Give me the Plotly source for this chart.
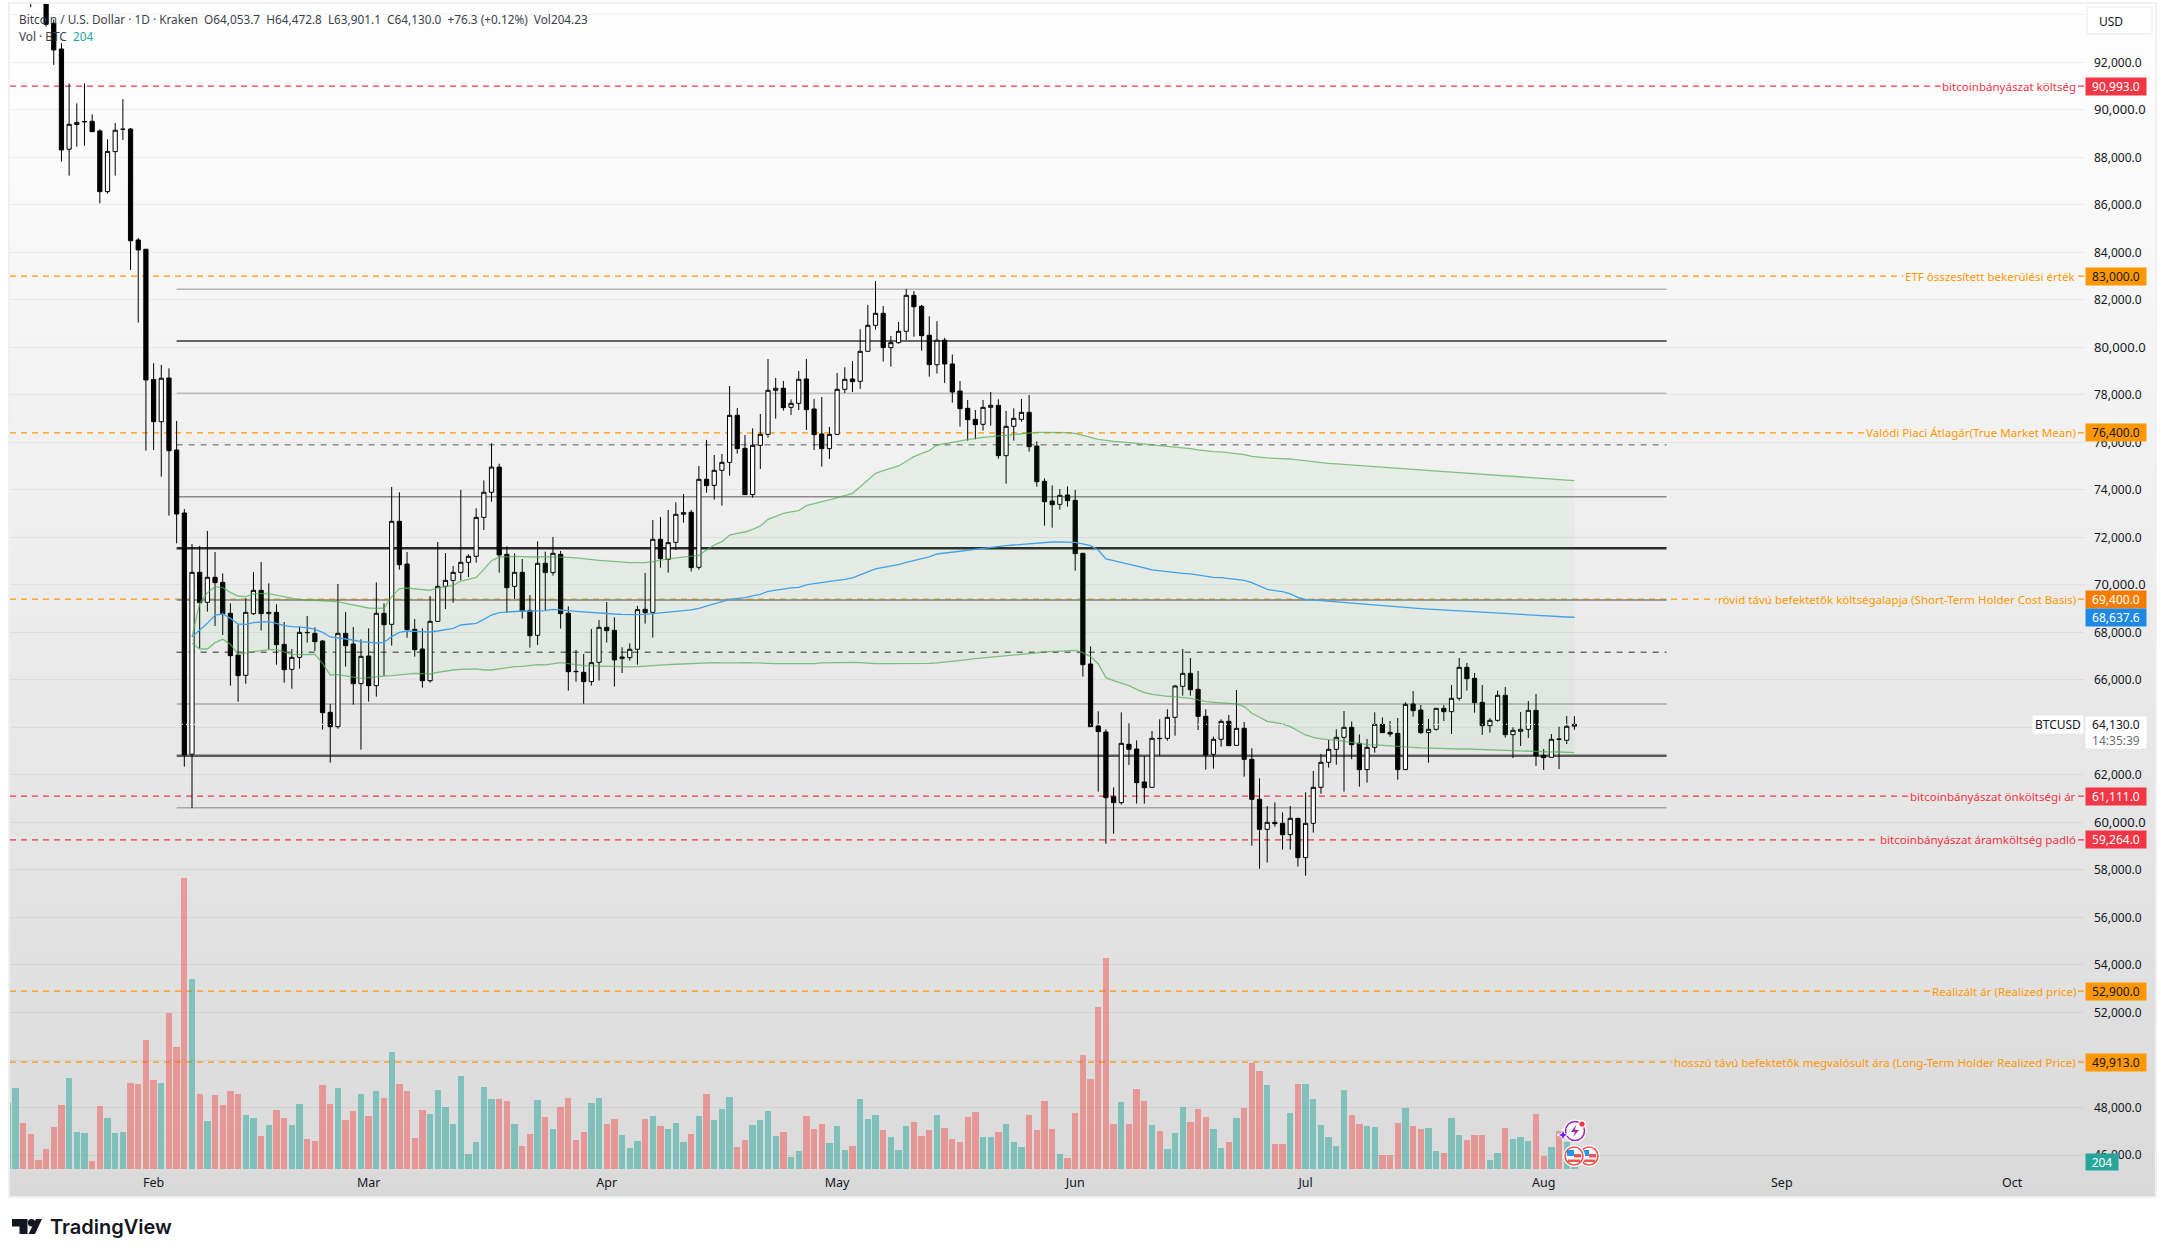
import pandas as pd
import plotly.graph_objects as go

# ---------- data (Jan 13 - Aug 5 2026, daily) ----------
first_day = "2026-01-13"
open_ = [96000,97000,97500,96200,95200,95000,93640,92560,88340,89380,
 89500,89515,89110,86555,88240,89180,89190,84520,84130,
 78650,76870,78710,75680,73027,62870,70530,69266,70320,70108,
 68803,67049,66193,68790,69771,68790,68845,67498,66446,66951,
 68003,67961,67638,64636,64032,67961,67512,65842,67007,65758,
 68803,68340,72676,70880,68130,67302,65968,68466,69940,70192,
 70529,70950,71203,72844,73900,74960,71287,69940,70529,68929,
 67877,70910,70516,71288,68804,66362,66320,65928,66741,68215,
 68089,66896,66938,67289,68972,68846,71919,71077,71793,72972,
 73056,70741,74445,74192,74824,75160,77139,75750,73800,75876,
 76339,78192,78276,77476,77644,78669,77406,76353,75736,76339,
 78234,78669,78570,79833,80928,81433,79988,80198,80675,82191,
 81727,80507,79270,80300,79300,78163,77433,76970,76760,77475,
 77560,75441,76676,76970,77265,75848,74360,73532,73392,73785,
 73560,71329,66671,64060,63808,61086,60834,63289,63093,61704,
 61479,63542,63542,64425,65731,66278,65604,64468,62868,63500,
 64257,63247,63963,62658,60974,59711,60006,59964,59487,60174,
 58518,59964,61479,62532,63079,63584,64005,63331,62223,63163,
 64131,63794,63752,62223,64987,64734,63780,63921,64804,64664,
 65226,66530,66067,65057,64075,64299,65352,63696,63836,63921,
 64720,62826,62742,63514,63458,64053.7]
close = [97000,97500,96200,95200,95000,93600,92520,88310,89390,89470,
 89500,89080,86555,88250,89140,89180,84490,84100,78627,
 76870,78700,75650,72985,62840,70530,69250,70320,70094,68790,
 67021,66179,68845,69771,68790,68845,67484,66432,66951,68003,
 67990,67610,64622,64032,67961,67442,65842,66993,65758,68803,
 68326,72676,70852,68116,67274,65968,68466,69940,70192,70529,
 70950,71203,72844,73900,74960,71259,69884,70529,68901,67863,
 70908,70516,71330,68790,66348,66350,65928,66727,68215,68075,
 66840,66966,67289,68958,68832,71919,71105,71779,72972,73042,
 70727,74445,74178,74824,75160,77139,75736,73800,75876,76339,
 78192,78276,77462,77644,78655,77378,76325,75736,76339,78234,
 78655,78556,79833,80928,81433,79988,80198,80675,82191,81713,
 80493,79272,80300,79300,78121,77419,76956,76746,77475,77560,
 75441,76676,77012,77265,75820,74346,73504,73378,73771,73546,
 71315,66643,64033,63823,61044,60834,63331,63079,61676,61465,
 63542,63530,64425,65745,66278,65590,64468,62840,63500,64257,
 63233,63963,62658,60974,59711,60006,59950,59487,60174,58518,
 59964,61479,62532,63079,63584,64005,63275,62223,63163,64131,
 63780,63724,62223,64973,64706,63780,63921,64804,64664,65226,
 66530,66053,65043,64075,64299,65352,63696,63878,63921,64720,
 62812,62728,63500,63500,64047,64130.0]
high = [97500,97900,97800,96600,95900,95400,93800,92800,91110,90270,
 91110,89810,89180,88760,89445,90450,89235,84600,84130,
 79330,79260,79117,76900,73196,71720,71640,72270,71385,70487,
 69224,68340,69435,70543,70964,70066,69182,68438,67302,68256,
 68691,68214,67680,64986,70038,68859,68228,67709,68172,70108,
 69224,74120,73900,71385,68565,68172,69533,71806,71343,70796,
 74000,71287,73223,74400,75960,75100,71624,71329,71090,69575,
 71835,71400,72017,71428,69099,67261,67092,68145,68523,69281,
 68636,67373,67541,69113,70502,72733,72859,73154,73477,73827,
 73154,75006,76101,75469,75511,78374,77448,76311,76592,77195,
 79510,78711,78584,77812,79005,79510,77827,77911,76648,78921,
 79160,79426,80759,81784,82794,81741,80479,81068,82457,82373,
 81784,81307,81100,80400,79700,78584,77784,77363,77784,78121,
 77812,77321,77433,77826,77995,76044,74487,74192,74037,74150,
 73996,71350,67415,64678,63921,61479,64636,64173,63457,62798,
 63850,64341,64762,65787,67302,66923,66376,64762,63612,64341,
 64524,65576,64229,63121,61858,60694,60848,60427,60694,60174,
 61269,62167,62882,63471,63921,64692,64257,63710,63514,64636,
 64426,64271,64398,65057,65534,64945,64355,64804,64945,65787,
 66923,66713,66292,65787,64398,65548,65703,64005,64650,65113,
 65408,63093,63724,64033,64482,64472.8]
low = [95600,96600,95800,94315,94800,93500,91890,87820,87230,88450,
 88490,89080,86060,86470,87230,88730,83260,81040,75650,
 75680,74557,72915,71750,62350,60600,67330,68873,68270,67890,
 65758,65085,65842,68733,68073,67302,66642,65884,65632,66474,
 67568,67218,63906,62517,63948,66558,64958,63064,65085,65295,
 66179,67442,70641,67779,66979,65674,65884,68466,68985,69252,
 70192,70333,70936,72311,73500,70515,68831,69406,68579,67358,
 67470,68916,70390,68159,65549,65928,65000,65760,65970,67570,
 65717,66293,66812,66643,68369,67780,70727,70516,71470,72621,
 70558,70642,73884,73589,73336,74599,75525,73800,73673,74880,
 76199,76999,77336,77153,77363,76522,75680,74978,75301,76339,
 78079,78121,78248,79833,80745,79398,79188,80156,80310,80450,
 79861,78767,78900,78500,77672,76662,76072,76128,76493,76704,
 75315,74262,76072,76872,75609,74136,72494,72410,73168,73294,
 70600,66138,64033,61297,59108,59529,60750,62419,60792,60792,
 61479,62812,63443,63654,65338,65338,63892,62223,62265,63191,
 63233,63247,61928,59023,58055,58308,59823,58855,58855,58140,
 57761,59571,61212,62307,62433,61297,62658,61507,61676,62938,
 63780,63612,61802,62223,64454,63724,62517,63865,64271,63724,
 65127,65548,64622,63682,63780,64243,63570,62714,63219,63556,
 62377,62209,62742,62251,63303,63901.1]
volume = [1675,2066,1173,893,230,510,1071,1632,2321,944,
 918,204,1607,1301,918,944,2193,2168,3290,
 2270,2193,3978,3111,7421,4845,1913,1224,1887,1632,
 1989,1913,1377,1301,842,1122,1505,1301,1122,1658,
 765,714,2142,1658,2066,1250,1479,1913,1352,1989,
 1811,2984,2168,1989,791,1505,1403,2015,1581,1148,
 2372,383,689,2091,1785,1785,1734,1148,587,893,
 1760,1326,1020,1581,1811,740,944,1683,1811,1148,
 1275,867,536,714,1275,1352,1097,1020,1173,689,
 893,1352,1913,1250,1530,1836,561,740,1122,1250,
 1479,842,944,306,459,1352,1020,1148,663,1097,
 485,587,1785,1275,1377,995,816,485,1097,1199,
 842,995,1377,1046,765,689,1326,1454,816,816,
 944,1148,689,561,1377,995,1734,1020,383,281,
 1428,2907,2295,4131,5381,1148,1709,1148,2040,1734,
 1122,969,510,918,1581,1199,1530,1326,1020,536,
 689,1301,1556,2703,2499,2142,638,638,1428,2168,
 2168,1785,1122,816,587,2015,1377,1148,1097,1071,
 357,357,1173,1556,1097,1020,1046,459,408,1301,
 867,740,867,867,230,408,1046,765,816,714,
 1403,332,561,969,697,204]

# moving band, from Feb 6 onwards
band_upper = [67821,69224,69673,69926,69884,69687,69533,69505,69617,69645,69631,69575,69519,69449,69378,69364,69350,69336,69322,69294,
 69224,69154,69070,69028,69014,69028,69505,69842,69870,69842,69799,69771,69870,69926,69982,70164,70234,70318,70655,71020,
 71175,71203,71203,71189,71175,71175,
 71190,71190,71190,71162,71134,71092,71064,71036,71008,70980,70952,70938,70938,70938,70980,71050,71092,71134,71176,71218,
 71246,71470,71680,71820,72100,72171,72227,72340,72480,72760,72900,73012,73070,73126,73337,73435,73505,73575,73673,73757,
 73855,74135,74416,74697,74810,74922,75006,75203,75400,75540,75652,
 75890,75960,76002,76059,76129,76171,76213,76241,76283,76311,76339,76381,76409,76423,76423,76423,76409,76409,76381,76283,
 76213,76129,76073,76045,76017,75989,75947,75919,75890,75862,75848,75806,75764,75736,75680,75638,75610,75596,75568,75540,
 75484,75414,75372,75344,75330,75330,75301,75259,75217,75175,75147,75119,
 75095,75070,75048,75020,74995,74975,74950,74925,74905,74885,74860,74835,74815,74795,74775,74750,74730,74705,74680,74660,
 74635,74610,74585,74560,74535,74510,74490,74470,74450,74430,74410,74390]
band_mid = [67821,68102,68383,68733,68775,68593,68355,68341,68411,68439,68453,68383,68285,68243,68214,68200,68130,68004,67808,67765,
 67737,67681,67611,67569,67555,67583,67821,68004,68060,68046,68018,68018,68060,68116,68172,68312,68341,68383,68551,68733,
 68832,68860,68874,68902,68902,68902,
 68916,68972,68958,68916,68888,68860,68832,68804,68790,68776,68762,68748,68748,68762,68790,68832,68860,68888,68916,68945,
 69015,69113,69197,69281,69395,69437,69465,69535,69606,69731,69787,69844,69872,69900,69998,70054,70110,70153,70195,70237,
 70293,70419,70546,70672,70742,70798,70854,70953,71037,71107,71177,
 71302,71344,71372,71400,71471,71513,71541,71583,71625,71653,71681,71709,71751,71779,71793,71807,71807,71807,71793,71723,
 71653,71471,71092,71022,70952,70868,70798,70713,70629,70587,70559,70517,70489,70461,70405,70348,70320,70306,70278,70250,
 70194,70096,69955,69815,69759,69717,69619,69478,69394,69366,69338,69310,
 69290,69265,69240,69215,69190,69160,69130,69100,69075,69050,69025,69000,68980,68960,68940,68920,68900,68880,68860,68840,
 68820,68800,68785,68770,68750,68730,68710,68690,68675,68660,68650,68637.6]
band_lower = [67541,67303,67303,67569,67709,67498,67077,67148,67190,67232,67274,67274,67190,67077,67063,67063,67077,66699,66208,66222,
 66180,66110,66068,66096,66138,66166,66180,66222,66264,66278,66264,66250,66320,66376,66418,66447,66461,66461,66418,66418,
 66461,66517,66559,66573,66601,66643,
 66631,66687,66730,66687,66631,66603,66589,66575,66561,66561,66547,66547,66561,66589,66603,66617,66645,66659,66673,66701,
 66715,66729,66729,66715,66701,66715,66729,66729,66715,66701,66687,66687,66687,66673,66673,66687,66715,66729,66743,66743,
 66743,66729,66701,66687,66687,66687,66673,66673,66673,66687,66701,
 66714,66743,66771,66799,66855,66897,66925,66953,66981,67009,67023,67051,67093,67135,67177,67191,67205,67233,67247,67149,
 66981,66672,66097,65971,65873,65761,65606,65466,65396,65340,65312,65284,65256,65228,65158,65087,65059,65031,65017,64989,
 64877,64597,64428,64259,64203,64147,64035,63866,63684,63585,63515,63487,
 63472,63416,63360,63318,63276,63262,63248,63220,63206,63192,63164,63136,63122,63122,63108,63108,63093,63093,63079,63079,
 63065,63065,63051,63037,63023,63009,62995,62981,62967,62967,62953,62939]

# horizontal reference levels
level_values = [90993.0, 83000.0, 76400.0, 69400.0, 61111.0, 59264.0, 52900.0, 49913.0]
level_names = ["bitcoinbányászat költség", "ETF összesített bekerülési érték",
               "Valódi Piaci Átlagár(True Market Mean)",
               "rövid távú befektetők költségalapja (Short-Term Holder Cost Basis)",
               "bitcoinbányászat önköltségi ár", "bitcoinbányászat áramköltség padló",
               "Realizált ár (Realized price)",
               "hosszú távú befektetők megvalósult ára (Long-Term Holder Realized Price)"]
level_line = ["#f23645", "#ff9800", "#ff9800", "#ff9800", "#f23645", "#f23645", "#ff9800", "#ff9800"]
level_badge = ["#f23645", "#ff9800", "#ff9800", "#f57c00", "#f23645", "#f23645", "#ff9800", "#ff9800"]
level_ink = ["#ffffff", "#131722", "#131722", "#ffffff", "#ffffff", "#ffffff", "#131722", "#131722"]

fib_values = [82443, 80268, 78065, 75904, 73715, 71540, 69365, 67163, 64987, 62805, 60623]
fib_colors = ["#b4b4b4", "#666666", "#bdbdbd", "#8c8c8c", "#8a8a8a", "#2b2b2b", "#808080", "#6a6a6a", "#aaaaaa", "#5a5a5a", "#a5a5a5"]
fib_widths = [1.5, 2, 1.5, 1.5, 1.5, 2.5, 1.5, 1.5, 1.5, 2.5, 1.5]
fib_dashes = ["solid", "solid", "solid", "6px,6px", "solid", "solid", "solid", "6px,6px", "solid", "solid", "solid"]
fib_start, fib_end = "2026-02-04", "2026-08-17"

last_price = 64130.0
price_ticks = list(range(46000, 96000, 2000))
month_ticks = ["2026-02-01", "2026-03-01", "2026-04-01", "2026-05-01", "2026-06-01", "2026-07-01", "2026-08-01", "2026-09-01", "2026-10-01"]
month_names = ["Feb", "Mar", "Apr", "May", "Jun", "Jul", "Aug", "Sep", "Oct"]

assert all(len(s) == 205 for s in (open_, high, low, close, volume)), [len(s) for s in (open_, high, low, close, volume)]
assert all(len(s) == 181 for s in (band_upper, band_mid, band_lower)), [len(s) for s in (band_upper, band_mid, band_lower)]

# ---------- layout geometry ----------
W, H = 2166, 1257
L, R, T, B = 10, 2084, 4, 1169
PANE_R, PANE_B = 2156, 1197
FONT = "Noto Sans"
INK = "#131722"


def xp(px):
    return (px - L) / (R - L)


def yp(py):
    return (B - py) / (B - T)


def pane_grey(py):
    g = int(round(255 - 38 * (py - T) / (PANE_B - T)))
    return f"rgb({g},{g},{g})"


PRICE_TOP, PRICE_BOTTOM = 94454, 45412


def price_py(p):
    return T + (PRICE_TOP - p) / (PRICE_TOP - PRICE_BOTTOM) * (B - T)


dates = pd.date_range(first_day, periods=len(close))
band_dates = dates[24:]
feb1 = pd.Timestamp("2026-02-01")
DAY_PX, FEB1_PX = 7.68, 153.6
x_range = [str(feb1 + pd.Timedelta(days=(L - FEB1_PX) / DAY_PX)), str(feb1 + pd.Timedelta(days=(R - FEB1_PX) / DAY_PX))]

UP_VOL, DOWN_VOL = "rgba(38,166,154,0.5)", "rgba(239,83,80,0.5)"
vol_colors = [UP_VOL if c >= o else DOWN_VOL for o, c in zip(open_, close)]

fig = go.Figure()
fig.add_trace(go.Bar(x=dates, y=volume, width=0.82 * 86400000, marker=dict(color=vol_colors, line=dict(width=0)),
                     yaxis="y", hoverinfo="skip", showlegend=False))
fig.add_trace(go.Scatter(x=band_dates, y=band_upper, yaxis="y2", mode="lines", line=dict(color="rgba(76,175,80,0.7)", width=1.3),
                         hoverinfo="skip", showlegend=False))
fig.add_trace(go.Scatter(x=band_dates, y=band_lower, yaxis="y2", mode="lines", line=dict(color="rgba(76,175,80,0.7)", width=1.3),
                         fill="tonexty", fillcolor="rgba(76,175,80,0.055)", hoverinfo="skip", showlegend=False))
fig.add_trace(go.Scatter(x=band_dates, y=band_mid, yaxis="y2", mode="lines", line=dict(color="#42a0e8", width=1.3),
                         hoverinfo="skip", showlegend=False))
fig.add_trace(go.Candlestick(x=dates, open=open_, high=high, low=low, close=close, yaxis="y2", whiskerwidth=0,
                             increasing=dict(line=dict(color="#000000", width=1), fillcolor="#ffffff"),
                             decreasing=dict(line=dict(color="#000000", width=1), fillcolor="#000000"),
                             showlegend=False, hoverinfo="skip"))

shapes = []
# pane gradient
STRIPS = 80
for i in range(STRIPS):
    y0 = T + (PANE_B - T) * i / STRIPS
    y1 = T + (PANE_B - T) * (i + 1) / STRIPS
    shapes.append(dict(type="rect", xref="paper", yref="paper", x0=xp(L), x1=xp(PANE_R), y0=yp(y0), y1=yp(y1 + 0.5),
                       fillcolor=pane_grey((y0 + y1) / 2), line=dict(width=0), layer="below"))
shapes.append(dict(type="rect", xref="paper", yref="paper", x0=xp(L - 1), x1=xp(PANE_R), y0=yp(T - 1), y1=yp(PANE_B),
                   line=dict(color="#eef0f4", width=2), layer="below"))

for v, c, w, d in zip(fib_values, fib_colors, fib_widths, fib_dashes):
    shapes.append(dict(type="line", xref="x", yref="y2", x0=fib_start, x1=fib_end, y0=v, y1=v,
                       line=dict(color=c, width=w, dash=d), layer="below"))
for v, c in zip(level_values, level_line):
    shapes.append(dict(type="line", xref="paper", yref="y2", x0=0, x1=1, y0=v, y1=v,
                       line=dict(color=c, width=1.2, dash="6px,5px"), layer="below"))
shapes.append(dict(type="line", xref="paper", yref="y2", x0=0, x1=1, y0=last_price, y1=last_price,
                   line=dict(color="#ffffff", width=1, dash="1px,3px"), layer="above"))
# currency box
shapes.append(dict(type="rect", xref="paper", yref="paper", x0=xp(2087), x1=xp(2152), y0=yp(34), y1=yp(7),
                   fillcolor="#ffffff", line=dict(color="#f0f1f4", width=1.5), layer="above"))


def circle(cx, cy, r, fill, line=None, w=0):
    shapes.append(dict(type="circle", xref="paper", yref="paper", x0=xp(cx - r), x1=xp(cx + r), y0=yp(cy + r), y1=yp(cy - r),
                       fillcolor=fill, line=dict(color=line or fill, width=w), layer="above"))


def box(x0, y0, x1, y1, fill):
    shapes.append(dict(type="rect", xref="paper", yref="paper", x0=xp(x0), x1=xp(x1), y0=yp(y1), y1=yp(y0),
                       fillcolor=fill, line=dict(width=0), layer="above"))


def poly(points, fill, line=None, w=0):
    path = "M " + " L ".join(f"{xp(a):.6f} {yp(b):.6f}" for a, b in points) + " Z"
    shapes.append(dict(type="path", xref="paper", yref="paper", path=path, fillcolor=fill,
                       line=dict(color=line or fill, width=w), layer="above"))


# event icons
for cx in (1589, 1574):
    circle(cx, 1156, 11, "#ffffff")
    circle(cx, 1156, 9, "#ffffff", "#ef5350", 1.6)
    box(cx - 7, 1150, cx, 1156, "#2196f3")
    box(cx, 1154, cx + 7, 1157.5, "#ef5350")
    box(cx - 6, 1159.5, cx + 6, 1162, "#ef5350")
circle(1575, 1131, 11.5, "#ffffff")
circle(1575, 1131, 9.5, "#ffffff", "#9c27b0", 1.6)
poly([(1576, 1125), (1571, 1132), (1575, 1132), (1573, 1137), (1579, 1130), (1575, 1130)], "#9c27b0")
circle(1582, 1124, 3.8, "#ffffff")
circle(1582, 1124, 2.6, "#f23645")
poly([(1563, 1129), (1564.5, 1133.5), (1569, 1135), (1564.5, 1136.5), (1563, 1141), (1561.5, 1136.5), (1557, 1135), (1561.5, 1133.5)],
     "#651fff", "#ffffff", 1)

# logo mark
poly([(12, 1219), (27.5, 1219), (27.5, 1234), (19.5, 1234), (19.5, 1226.5), (12, 1226.5)], INK)
circle(31.5, 1222.8, 3.7, INK)
poly([(36, 1219), (42, 1219), (35, 1234), (28.5, 1234)], INK)

ann = []


def note(text, x, y, yref="y2", xanchor="left", yanchor="middle", color=INK, size=12, **kw):
    ann.append(dict(text=text, x=x, y=y, xref="paper", yref=yref, xanchor=xanchor, yanchor=yanchor, showarrow=False,
                    font=dict(family=FONT, size=size, color=color), **kw))


# level labels and price badges
for v, n, c, b, ink in zip(level_values, level_names, level_line, level_badge, level_ink):
    note(n, xp(2078), v, xanchor="right", color=c, size=11.55, bgcolor=pane_grey(price_py(v)), borderpad=1)
    note(f"{v:,.1f}", xp(2085), v, color=ink, bgcolor=b, width=60, height=17, align="center", borderpad=0)
note("68,637.6", xp(2085), band_mid[-1], color="#ffffff", bgcolor="#1e88e5", width=60, height=17, align="center", borderpad=0)
note("BTCUSD", xp(2084), last_price, xanchor="right", bgcolor="#ffffff", width=50, height=17, align="center", borderpad=0)
note("64,130.0<br><span style='color:#6a6d78'>14:35:39</span>", xp(2085), yp(716), yref="paper", yanchor="top", bgcolor="#ffffff",
     width=60, height=31, align="center", borderpad=0)
note("204", xp(2085), yp(1153), yref="paper", yanchor="top", color="#ffffff", bgcolor="#26a69a", width=32, height=16, align="center", borderpad=0)
note("USD", xp(2097), yp(21), yref="paper")
note("Bitcoin / U.S. Dollar · 1D · Kraken&nbsp;&nbsp;O64,053.7&nbsp;&nbsp;H64,472.8&nbsp;&nbsp;L63,901.1&nbsp;&nbsp;C64,130.0&nbsp;&nbsp;+76.3 (+0.12%)&nbsp;&nbsp;Vol204.23",
     xp(17), yp(19), yref="paper", color="#3b3f4a", size=11.8)
note("Vol · BTC&nbsp;&nbsp;<span style='color:#26a69a'>204</span>", xp(17), yp(36), yref="paper", color="#3b3f4a", size=11.8)
ann.append(dict(text="TradingView", x=xp(48), y=yp(1227), xref="paper", yref="paper", xanchor="left", yanchor="middle", showarrow=False,
                font=dict(family="Inter", size=20, color=INK, weight=600)))

tick_text = []
for p in price_ticks:
    if p == 94000:
        tick_text.append("")
    elif p % 10000 == 0:
        tick_text.append(f"<span style='font-size:13px'>{p:,.1f}</span>")
    else:
        tick_text.append(f"{p:,.1f}")

fig.update_layout(
    width=W, height=H, autosize=False,
    margin=dict(l=L, r=W - R, t=T, b=H - B, pad=0),
    paper_bgcolor="#ffffff", plot_bgcolor="rgba(0,0,0,0)",
    showlegend=False, bargap=0, boxgap=0.45, boxgroupgap=0, hovermode=False,
    shapes=shapes, annotations=ann,
    font=dict(family=FONT, size=12, color=INK),
    xaxis=dict(type="date", range=x_range, tickmode="array", tickvals=month_ticks, ticktext=month_names,
               showgrid=False, zeroline=False, showline=False, ticks="", rangeslider=dict(visible=False),
               tickfont=dict(family=FONT, size=12.5, color=INK), ticklabelstandoff=4),
    yaxis=dict(range=[0, 29708], visible=False, showgrid=False, zeroline=False, fixedrange=True),
    yaxis2=dict(overlaying="y", side="right", range=[PRICE_BOTTOM, PRICE_TOP], tickmode="array", tickvals=price_ticks, ticktext=tick_text,
                showgrid=True, gridcolor="rgba(0,0,0,0.055)", gridwidth=1, zeroline=False, showline=False, ticks="",
                tickfont=dict(family=FONT, size=12, color=INK), ticklabelstandoff=9),
)

fig.write_html("out.html", config=dict(displayModeBar=False),
               post_script="document.body.style.margin='0';document.body.style.overflow='hidden';")
